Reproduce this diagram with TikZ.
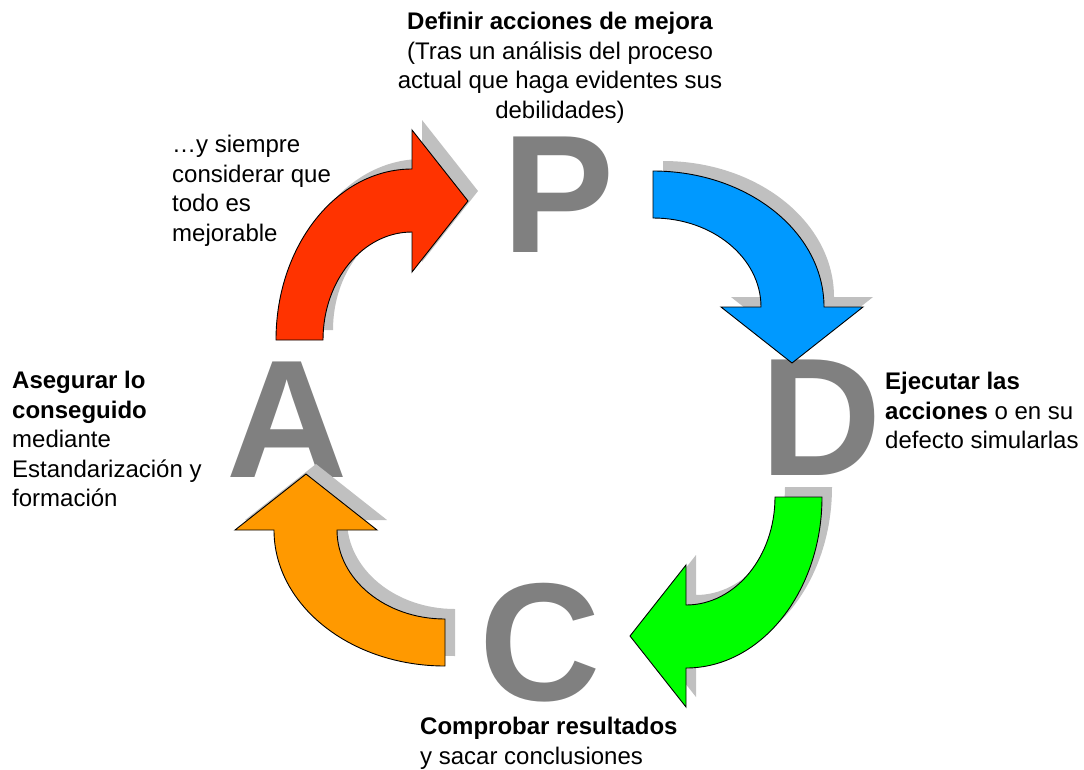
\documentclass[tikz,border=0pt]{standalone}
\usepackage{fontspec}
\setmainfont{Liberation Sans}
\usetikzlibrary{positioning}
\definecolor{planred}{RGB}{255, 51, 0}
\definecolor{doblue}{RGB}{0, 153, 255}
\definecolor{checkgreen}{RGB}{0, 255, 0}
\definecolor{actorange}{RGB}{255, 153, 0}
\definecolor{shadowgray}{RGB}{192, 192, 192}
\definecolor{lettergray}{RGB}{128, 128, 128}

% one bent arrow, drawn around its own centre (the blue one unrotated)
\newcommand{\cyclearrow}{(0,-136) arc[start angle=-90, end angle=0, x radius=171, y radius=136]
  -- (210,0) -- (139,56) -- (68,0) -- (108,0)
  arc[start angle=0, end angle=-90, x radius=108, y radius=89] -- cycle}

\begin{document}
\begin{tikzpicture}[x=1pt, y=-1pt,
  letter/.style={text=lettergray, font=\fontsize{168}{168}\selectfont\bfseries, inner sep=0pt},
  cycletext/.style={font=\fontsize{24}{29.5}\selectfont, inner sep=0pt},
  arrowbody/.style={draw=black, line width=0.9pt, line join=miter}]
  \fill[white] (0,0) rectangle (1084,769);
  \useasboundingbox (0,0) rectangle (1084,769);

  % big letters
  \node[letter] (P) at (559,195) {P};
  \node[letter] (D) at (821,418) {D};
  \node[letter] (C) at (540,643) {C};
  \node[letter] (A) at (287,420) {A};

  % arrows with their shadows
  \foreach \cx/\cy/\turn in {653/307/0, 686/497/-90, 445/530/180, 412/340/90}
    \fill[shadowgray, shift={(\cx+10,\cy-10)}, rotate=\turn] \cyclearrow;
  \foreach \cx/\cy/\turn/\col in {653/307/0/doblue, 686/497/-90/checkgreen, 445/530/180/actorange, 412/340/90/planred}
    \draw[arrowbody, fill=\col, shift={(\cx,\cy)}, rotate=\turn] \cyclearrow;

  % texts
  \node[cycletext, anchor=north, align=center] (plantext) at (560,12)
    {\textbf{Definir acciones de mejora}\\(Tras un análisis del proceso\\actual que haga evidentes sus\\debilidades)};
  \node[cycletext, anchor=north west, align=left] (improvetext) at (172,135)
    {…y siempre\\considerar que\\todo es\\mejorable};
  \node[cycletext, anchor=north west, align=left] (dotext) at (885,372)
    {\textbf{Ejecutar las}\\\textbf{acciones} o en su\\defecto simularlas};
  \node[cycletext, anchor=north west, align=left] (acttext) at (12,371)
    {\textbf{Asegurar lo}\\\textbf{conseguido}\\mediante\\Estandarización y\\formación};
  \node[cycletext, anchor=north west, align=left] (checktext) at (420,717)
    {\textbf{Comprobar resultados}\\y sacar conclusiones};
\end{tikzpicture}
\end{document}
